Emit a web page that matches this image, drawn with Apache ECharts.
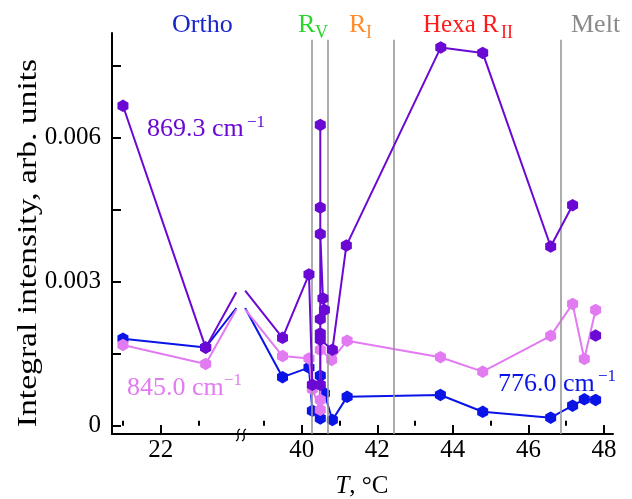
<!DOCTYPE html>
<html><head><meta charset="utf-8">
<script src="https://cdn.jsdelivr.net/npm/echarts@6/dist/echarts.min.js"></script>
<style>html,body{margin:0;padding:0;background:#fff}#c{width:632px;height:499px}</style>
</head><body><div id="c"></div>
<script>
// ---- data (temperature in °C, integral intensity in arb. units) ----
// null = line break (no measurement drawn)
const T_776 = [21.0, 23.19, 24.0, null, 38.5, 39.49, 40.19, 40.28, 40.49, 40.49, 40.6, 40.81, 41.2, 43.67, 44.79, 46.59, 47.17, 47.48, 47.78];
const V_776 = [1.81e-3, 1.63e-3, 2.45e-3, null, 2.45e-3, 1.01e-3, 1.21e-3, 0.31e-3, 0.15e-3, 1.04e-3, 0.675e-3, 0.12e-3, 0.60e-3, 0.64e-3, 0.29e-3, 0.167e-3, 0.417e-3, 0.55e-3, 0.535e-3];

const T_845 = [21.0, 23.19, 24.0, null, 38.5, 39.49, 40.19, 40.28, 40.49, 40.49, 40.49, 40.79, 41.2, 43.67, 44.79, 46.59, 47.17, 47.48, 47.78];
const V_845 = [1.68e-3, 1.285e-3, 2.42e-3, null, 2.42e-3, 1.45e-3, 1.40e-3, 0.76e-3, 0.33e-3, 0.535e-3, 1.58e-3, 1.37e-3, 1.77e-3, 1.425e-3, 1.125e-3, 1.87e-3, 2.535e-3, 1.39e-3, 2.41e-3];

const T_869 = [21.0, 23.19, 24.0, null, 38.5, 39.49, 40.19, 40.28, 40.49, 40.49, 40.49, 40.49, 40.56, 40.6, 40.49, 40.49, 40.49, 40.81, 41.18, 43.68, 44.79, 46.59, 47.17, null, 47.78];
const V_869 = [6.66e-3, 1.625e-3, 2.78e-3, null, 2.81e-3, 1.83e-3, 3.15e-3, 0.85e-3, 0.85e-3, 6.26e-3, 4.54e-3, 3.99e-3, 2.65e-3, 2.41e-3, 2.22e-3, 1.92e-3, 1.79e-3, 1.58e-3, 3.75e-3, 7.875e-3, 7.76e-3, 3.73e-3, 4.59e-3, null, 1.875e-3];

const PHASE_T = [40.27, 40.70, 42.44, 46.86];          // phase boundaries
const X_MAJOR = [22, 40, 42, 44, 46, 48];              // labelled ticks
const X_MINOR = [21, 23, 39, 41, 43, 45, 47];
const Y_TICKS = [0, 0.0015, 0.003, 0.0045, 0.006, 0.0075];
const Y_LABELS = [0, 0.003, 0.006];

// axis break: temperatures above 30 are shifted left
const SHIFT = 14.265;
const BREAK_T = [24.0, 38.5];
const disp = t => (t < 30 ? t : t - SHIFT);
const undisp = u => (u < 24.1 ? u : u + SHIFT);

const X_MIN = 20.71, X_MAX = 48.24 - SHIFT;
const Y_MIN = -0.000173, Y_MAX = 0.008175;
const Y_LINE_TOP = 0.008035;

const HEX = 'path://M0,-1L0.866,-0.5L0.866,0.5L0,1L-0.866,0.5L-0.866,-0.5Z';
const FONT = '"Liberation Serif","Times New Roman",serif';

function build(Ts, Vs) {
  return Ts.map((t, i) => t === null ? { value: ['-', '-'] } :
    { value: [disp(t), Vs[i]], symbol: BREAK_T.includes(t) ? 'none' : HEX });
}
function lineSeries(name, Ts, Vs, color, z) {
  return {
    name, type: 'line', data: build(Ts, Vs), z,
    symbol: HEX, symbolSize: [11, 12.5], showSymbol: true,
    lineStyle: { color, width: 2 }, itemStyle: { color },
    connectNulls: false, animation: false, silent: true
  };
}

const chart = echarts.init(document.getElementById('c'), null, { renderer: 'canvas' });
const axisLineStyle = { color: '#000', width: 2 };

chart.setOption({
  backgroundColor: '#fff',
  animation: false,
  grid: { left: 112, right: 19, top: 33, bottom: 65 },
  xAxis: [{
    type: 'value', min: X_MIN, max: X_MAX, position: 'bottom',
    axisLine: { show: true, onZero: false, lineStyle: axisLineStyle },
    axisTick: { show: true, inside: true, length: 9, customValues: X_MAJOR.map(disp), lineStyle: axisLineStyle },
    axisLabel: { show: true, customValues: X_MAJOR.map(disp), margin: 4,
      formatter: v => String(Math.round(undisp(v))), color: '#000', fontFamily: FONT, fontSize: 25 },
    splitLine: { show: false }
  }, {
    type: 'value', min: X_MIN, max: X_MAX, position: 'bottom',
    axisLine: { show: false },
    axisTick: { show: true, inside: true, length: 5, customValues: X_MINOR.map(disp), lineStyle: axisLineStyle },
    axisLabel: { show: false }, splitLine: { show: false }
  }],
  yAxis: {
    type: 'value', min: Y_MIN, max: Y_MAX,
    axisLine: { show: true, onZero: false, lineStyle: axisLineStyle },
    axisTick: { show: true, inside: true, length: 9, customValues: Y_TICKS, lineStyle: axisLineStyle },
    axisLabel: { show: true, customValues: Y_LABELS, margin: 11,
      formatter: v => (v === 0 ? '0' : v.toFixed(3)), color: '#000', fontFamily: FONT, fontSize: 25 },
    splitLine: { show: false }
  },
  series: [
    {
      type: 'line', data: [], silent: true, z: 1,
      markLine: {
        silent: true, symbol: 'none', animation: false,
        label: { show: false },
        lineStyle: { color: '#999', width: 1.6, type: 'solid' },
        data: PHASE_T.map(t => [{ coord: [disp(t), Y_LINE_TOP] }, { coord: [disp(t), Y_MIN] }])
      }
    },
    lineSeries('776.0', T_776, V_776, '#0a14e6', 3),
    lineSeries('845.0', T_845, V_845, '#e27af2', 4),
    lineSeries('869.3', T_869, V_869, '#6a08d4', 5)
  ],
  graphic: [
    // axis break mark
    { type: 'bezierCurve', z: 100, shape: { x1: 236, y1: 441, x2: 240, y2: 429, cpx1: 242, cpy1: 438, cpx2: 234, cpy2: 432 },
      style: { stroke: '#000', lineWidth: 1.3, fill: null } },
    { type: 'bezierCurve', z: 100, shape: { x1: 242, y1: 441, x2: 246, y2: 429, cpx1: 248, cpy1: 438, cpx2: 240, cpy2: 432 },
      style: { stroke: '#000', lineWidth: 1.3, fill: null } },
    // axis titles
    { type: 'text', x: 29, y: 243, rotation: Math.PI / 2, scaleX: 1.2, z: 100,
      style: { text: 'Integral intensity, arb. units', font: '28px ' + FONT, fill: '#000', align: 'center', verticalAlign: 'middle' } },
    { type: 'text', x: 362, y: 486, z: 100,
      style: { text: '{i|T}, °C', font: '25px ' + FONT, fill: '#000', align: 'center', verticalAlign: 'middle',
        rich: { i: { fontStyle: 'italic', fontFamily: FONT, fontSize: 25 } } } },
    // phase labels
    { type: 'text', x: 172, y: 25, style: { text: 'Ortho', font: '26px ' + FONT, fill: '#1a26c8', verticalAlign: 'middle' } },
    { type: 'text', x: 298, y: 25, style: { text: 'R', font: '26px ' + FONT, fill: '#2bd62b', verticalAlign: 'middle' } },
    { type: 'text', x: 315, y: 33, style: { text: 'V', font: '18px ' + FONT, fill: '#2bd62b', verticalAlign: 'middle' } },
    { type: 'text', x: 349, y: 25, style: { text: 'R', font: '26px ' + FONT, fill: '#ff8c2e', verticalAlign: 'middle' } },
    { type: 'text', x: 366, y: 33, style: { text: 'I', font: '18px ' + FONT, fill: '#ff8c2e', verticalAlign: 'middle' } },
    { type: 'text', x: 423, y: 25, style: { text: 'Hexa R', font: '25px ' + FONT, fill: '#ff1a1a', verticalAlign: 'middle' } },
    { type: 'text', x: 501, y: 33, style: { text: 'II', font: '18px ' + FONT, fill: '#ff1a1a', verticalAlign: 'middle' } },
    { type: 'text', x: 571, y: 25, style: { text: 'Melt', font: '26px ' + FONT, fill: '#8a8a8a', verticalAlign: 'middle' } },
    // series annotations
    { type: 'text', x: 147, y: 129, style: { text: '869.3 cm', font: '26px ' + FONT, fill: '#6a08d4', verticalAlign: 'middle' } },
    { type: 'text', x: 247, y: 123, style: { text: '−1', font: '17px ' + FONT, fill: '#6a08d4', verticalAlign: 'middle' } },
    { type: 'text', x: 127, y: 388, style: { text: '845.0 cm', font: '26px ' + FONT, fill: '#e27af2', verticalAlign: 'middle' } },
    { type: 'text', x: 224, y: 381, style: { text: '−1', font: '17px ' + FONT, fill: '#e27af2', verticalAlign: 'middle' } },
    { type: 'text', x: 498, y: 384, style: { text: '776.0 cm', font: '26px ' + FONT, fill: '#0a14e6', verticalAlign: 'middle' } },
    { type: 'text', x: 598, y: 377, style: { text: '−1', font: '17px ' + FONT, fill: '#0a14e6', verticalAlign: 'middle' } }
  ]
});
</script>
</body></html>
